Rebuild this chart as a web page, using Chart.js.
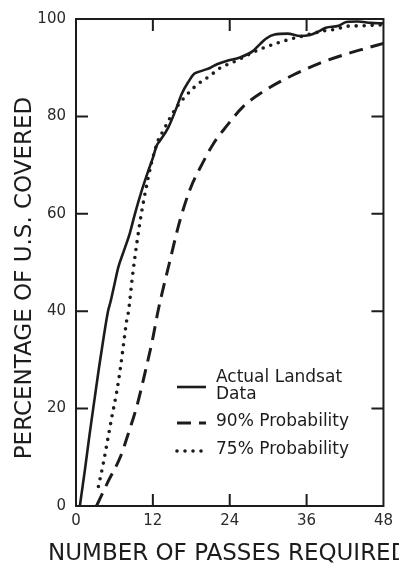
<!DOCTYPE html>
<html>
<head>
<meta charset="utf-8">
<script src="https://cdn.jsdelivr.net/npm/chart.js@4"></script>
<style>
html, body { margin: 0; padding: 0; background: #fff; }
</style>
</head>
<body>
<canvas id="myChart" width="399" height="563"></canvas>
<script>
// values
const landsatX = [0.6, 1.4, 2.1, 2.9, 3.6, 4.3, 5.0, 5.4, 6.0, 6.6, 7.5, 8.4, 9.2, 10.2, 11.2, 12.0, 12.6, 13.1, 14.4, 15.7, 16.5, 17.5, 18.5, 19.5, 21.0, 22.0, 23.5, 25.6, 27.6, 28.7, 29.7, 31.0, 33.0, 35.0, 36.5, 37.5, 39.0, 41.0, 42.2, 44.0, 46.0, 48.0];
const landsatY = [0, 7.5, 14.5, 22, 28.5, 34.5, 40, 42, 45.5, 49, 52.5, 56, 60, 64.5, 68.5, 71.5, 74, 75, 77.7, 81.8, 84.6, 87, 88.8, 89.3, 90, 90.7, 91.4, 92.1, 93.4, 94.8, 96, 96.8, 97.0, 96.5, 96.7, 97.2, 98.2, 98.6, 99.4, 99.5, 99.2, 99.1];

const p90X = [3.2, 5.0, 6.9, 8.2, 9.5, 10.8, 12.0, 12.8, 14.6, 16.2, 17.8, 19.6, 21.5, 23.5, 26.1, 29.7, 33.9, 38.0, 41.7, 45.3, 48];
const p90Y = [0, 5, 10, 15, 20.5, 27.5, 34.5, 40, 50, 58.5, 65, 70, 74.5, 78, 82, 85.5, 88.5, 90.9, 92.6, 94, 95];

const p75X = [3.5, 4.3, 5.0, 5.7, 6.3, 6.9, 7.4, 7.9, 8.2, 8.8, 9.5, 10.2, 10.9, 11.8, 12.8, 13.6, 14.6, 15.5, 17.0, 18.3, 19.6, 20.9, 22.2, 25.0, 28.4, 31.5, 33.3, 35.4, 38.5, 40.6, 42.2, 44.3, 48.0];
const p75Y = [4, 9, 14, 19, 23, 28, 33, 38, 40, 47, 54, 60, 65, 70.5, 75, 77, 79.5, 81.5, 84, 85.8, 87.2, 88.3, 89.7, 91.4, 93.6, 95.1, 95.8, 96.5, 97.5, 97.9, 98.5, 98.6, 98.8];

const xTicks = [0, 12, 24, 36, 48];
const yTicks = [0, 20, 40, 60, 80, 100];

const xTitle = "NUMBER OF PASSES REQUIRED";
const yTitle = "PERCENTAGE OF U.S. COVERED";
const legendLabels = [["Actual Landsat", "Data"], ["90% Probability"], ["75% Probability"]];

const ink = "#1c1c1c";
const ctx = document.getElementById("myChart");

function pairs(xs, ys) {
	return xs.map((v, i) => ({x: v, y: ys[i]}));
}

Chart.defaults.font.family = "'DejaVu Sans', sans-serif";
Chart.defaults.color = ink;

// frame, inward ticks, titles and legend
const decor = {
	id: "decor",
	afterDraw(chart) {
		const c = chart.ctx;
		const a = chart.chartArea;
		const sx = chart.scales.x, sy = chart.scales.y;
		const len = 12;
		c.save();
		c.strokeStyle = ink;
		c.lineWidth = 2;
		c.strokeRect(a.left, a.top, a.right - a.left, a.bottom - a.top);
		c.beginPath();
		for (let v of xTicks) {
			if (v === xTicks[0] || v === xTicks[xTicks.length - 1]) continue;
			let px = sx.getPixelForValue(v);
			c.moveTo(px, a.bottom); c.lineTo(px, a.bottom - len);
			c.moveTo(px, a.top); c.lineTo(px, a.top + len);
		}
		for (let v of yTicks) {
			if (v === yTicks[0] || v === yTicks[yTicks.length - 1]) continue;
			let py = sy.getPixelForValue(v);
			c.moveTo(a.left, py); c.lineTo(a.left + len, py);
			c.moveTo(a.right, py); c.lineTo(a.right - len, py);
		}
		c.stroke();

		// axis titles
		c.fillStyle = ink;
		c.font = "23px 'DejaVu Sans'";
		c.textAlign = "left";
		c.textBaseline = "alphabetic";
		c.fillText(xTitle, 48, 560);
		c.save();
		c.translate(25, 278);
		c.rotate(-Math.PI / 2);
		c.textAlign = "center";
		c.textBaseline = "middle";
		c.fillText(yTitle, 0, 0);
		c.restore();

		// legend
		const rows = [387, 423, 451];
		c.font = "17px 'DejaVu Sans'";
		c.textAlign = "left";
		chart.data.datasets.forEach((ds, i) => {
			let y = rows[i];
			c.save();
			c.lineWidth = ds.borderWidth;
			c.lineCap = ds.borderCapStyle || "butt";
			c.setLineDash(ds.borderDash || []);
			c.beginPath();
			c.moveTo(177, y); c.lineTo(206, y);
			c.stroke();
			c.restore();
			let lines = legendLabels[i];
			let top = y - (lines.length - 1) * 8.5;
			lines.forEach((t, j) => {
				c.textBaseline = "middle";
				c.fillText(t, 216, top + j * 17 - 1);
			});
		});
		c.restore();
	}
};

new Chart(ctx, {
	type: "scatter",
	data: {
		datasets: [{
			label: "Actual Landsat Data",
			data: pairs(landsatX, landsatY),
			showLine: true,
			borderColor: ink,
			borderWidth: 2.6,
			pointRadius: 0,
			cubicInterpolationMode: "monotone"
		}, {
			label: "90% Probability",
			data: pairs(p90X, p90Y),
			showLine: true,
			borderColor: ink,
			borderWidth: 3,
			borderDash: [14, 8],
			pointRadius: 0,
			cubicInterpolationMode: "monotone"
		}, {
			label: "75% Probability",
			data: pairs(p75X, p75Y),
			showLine: true,
			borderColor: ink,
			borderWidth: 3.6,
			borderDash: [0, 8],
			borderCapStyle: "round",
			pointRadius: 0,
			cubicInterpolationMode: "monotone"
		}]
	},
	options: {
		responsive: false,
		animation: false,
		layout: {padding: {top: 18, right: 15, left: 0, bottom: 0}},
		plugins: {legend: {display: false}, tooltip: {enabled: false}},
		scales: {
			x: {
				type: "linear",
				min: 0, max: 48,
				afterBuildTicks: s => { s.ticks = xTicks.map(v => ({value: v})); },
				afterFit: s => { s.height = 57; },
				grid: {display: false, drawTicks: false},
				border: {display: false},
				ticks: {padding: 6, font: {size: 15}, color: "#2a2a2a", maxRotation: 0}
			},
			y: {
				min: 0, max: 100,
				afterBuildTicks: s => { s.ticks = yTicks.map(v => ({value: v})); },
				afterFit: s => { s.width = 76; },
				grid: {display: false, drawTicks: false},
				border: {display: false},
				ticks: {padding: 10, font: {size: 15}, color: "#2a2a2a"}
			}
		}
	},
	plugins: [decor]
});
</script>
</body>
</html>
